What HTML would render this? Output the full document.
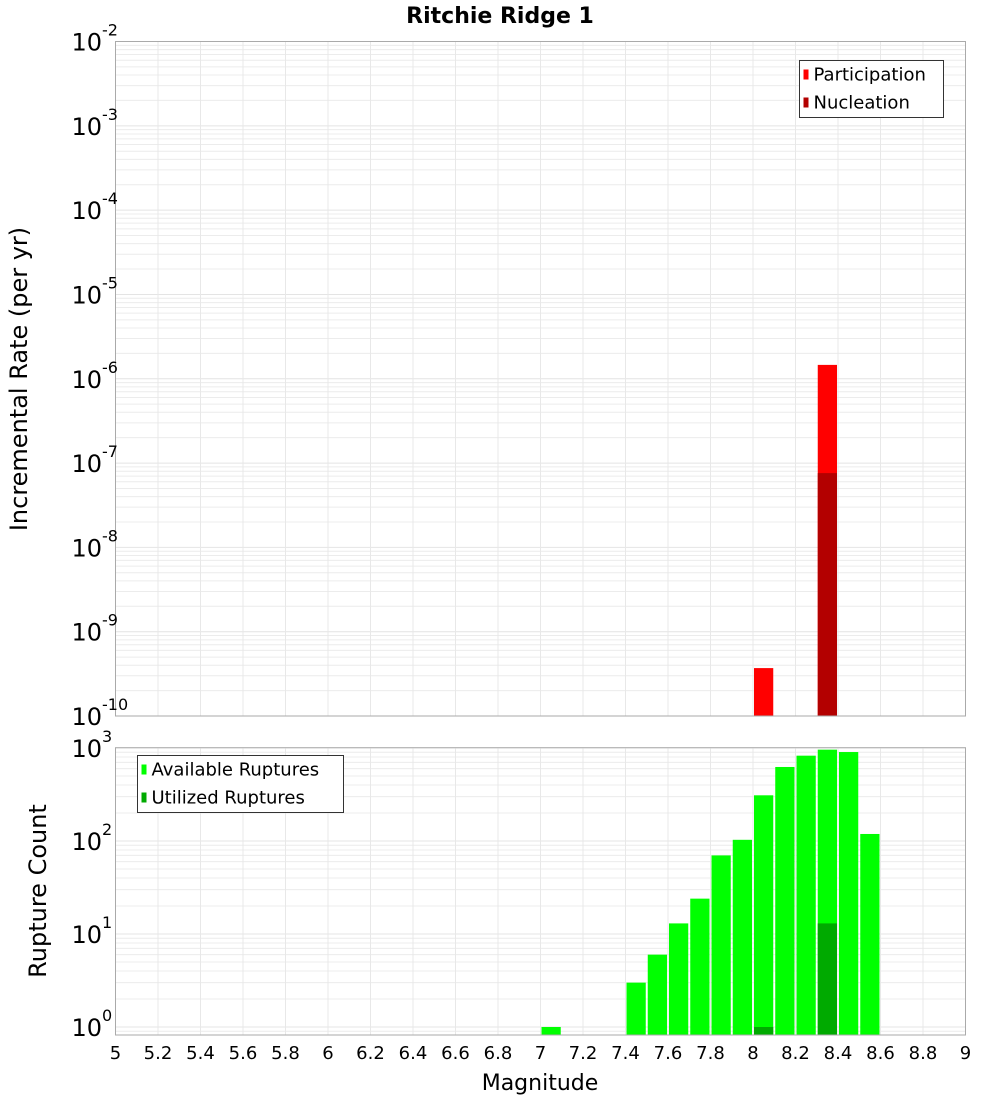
<!DOCTYPE html>
<html><head><meta charset="utf-8"><style>
html,body{margin:0;padding:0;background:#fff;}
svg{display:block;font-family:"DejaVu Sans","Liberation Sans",sans-serif;}
</style></head><body>
<svg id="chart" width="1000" height="1100" xmlns="http://www.w3.org/2000/svg">
<text x="500" y="23" text-anchor="middle" font-size="22" font-weight="bold">Ritchie Ridge 1</text>
<g id="topPlot"></g>
<g id="botPlot"></g>
<text transform="translate(27,379) rotate(-90)" text-anchor="middle" font-size="24">Incremental Rate (per yr)</text>
<text transform="translate(46,891) rotate(-90)" text-anchor="middle" font-size="24">Rupture Count</text>
<text x="540" y="1090" text-anchor="middle" font-size="22">Magnitude</text>
</svg>
<script>
const magBins = [8.0, 8.3];
const participation = [3.7e-10, 1.46e-6];
const nucleation = [0, 7.6e-8];
const countBins = [7.0, 7.4, 7.5, 7.6, 7.7, 7.8, 7.9, 8.0, 8.1, 8.2, 8.3, 8.4, 8.5];
const available = [1, 3, 6, 13, 24, 70, 103, 310, 625, 827, 960, 905, 119];
const utilized = [0, 0, 0, 0, 0, 0, 0, 1, 0, 0, 13, 0, 0];
const xTicks = ["5","5.2","5.4","5.6","5.8","6","6.2","6.4","6.6","6.8","7","7.2","7.4","7.6","7.8","8","8.2","8.4","8.6","8.8","9"];
const topExps = [-2,-3,-4,-5,-6,-7,-8,-9,-10];
const botExps = [0,1,2,3];

const NS="http://www.w3.org/2000/svg";
const L=115.5,R=965.5;
const x=m=>L+(m-5)/4*(R-L);
function mk(p,t,a){const e=document.createElementNS(NS,t);for(const k in a)e.setAttribute(k,a[k]);p.appendChild(e);return e;}
const T0=41.5,T1=716;
const yT=v=>T0+(-2-Math.log10(v))/8*(T1-T0);
const B0=747.7,B1=1035;
const yB=v=>1027-Math.log10(v)*93;
const gTop=document.getElementById('topPlot'),gBot=document.getElementById('botPlot');

function grid(g,yt,yb,yf,lo,hi){
  for(let e=lo;e<hi;e++)for(let k=1;k<10;k++){const y=yf(k*Math.pow(10,e));if(y<yt-0.5||y>yb+0.5)continue;
    const l=mk(g,'line',{x1:L,x2:R,y1:y,y2:y,stroke:k==1?'#e4e4e4':'#ececec','stroke-width':1});
    
    }
  for(let i=1;i<20;i++){const l=mk(g,'line',{x1:x(5+i*0.2),x2:x(5+i*0.2),y1:yt,y2:yb,stroke:'#e8e8e8','stroke-width':1});
    
    }
}
grid(gTop,T0,T1,yT,-10,-1);
grid(gBot,B0,B1,yB,-1,4);

function bar(g,m,v,yf,base,col,name){
  if(!v)return;
  const y=yf(v);
  const r=mk(g,'rect',{x:x(m)+1,y:y,width:x(m+0.1)-x(m)-2,height:base-y,fill:col});
  
  
}
magBins.forEach((m,i)=>bar(gTop,m,participation[i],yT,T1,'#ff0000','participation-bar'));
magBins.forEach((m,i)=>bar(gTop,m,nucleation[i],yT,T1,'#b30000','nucleation-bar'));
countBins.forEach((m,i)=>bar(gBot,m,available[i],yB,B1,'#00ff00','available-bar'));
countBins.forEach((m,i)=>bar(gBot,m,utilized[i],yB,B1,'#00aa00','utilized-bar'));

const f1=mk(gTop,'rect',{x:L,y:T0,width:R-L,height:T1-T0,fill:'none',stroke:'#aaa'});


const f2=mk(gBot,'rect',{x:L,y:B0,width:R-L,height:B1-B0,fill:'none',stroke:'#aaa'});



function ylab(g,e,y){
  const t=mk(g,'text',{x:102,y:y+9,'text-anchor':'end','font-size':24});
  
  
  t.textContent='10';
  const s=mk(g,'text',{x:102,y:y-6,'font-size':16});
  
  
  s.textContent=String(e);
}
topExps.forEach(e=>ylab(gTop,e,yT(Math.pow(10,e))));
botExps.forEach(e=>ylab(gBot,e,yB(Math.pow(10,e))));
xTicks.forEach(s=>{
  const t=mk(gBot,'text',{x:x(parseFloat(s)),y:1059,'text-anchor':'middle','font-size':18});
  
  
  t.textContent=s;
});

function legend(g,bx,by,w,items){
  const r=mk(g,'rect',{x:bx,y:by,width:w,height:57,fill:'#fff',stroke:'#333'});
  
  
  items.forEach((it,i)=>{
    const sw=mk(g,'rect',{x:bx+4,y:by+9+i*28,width:5,height:10,fill:it[1]});
    
    
    const t=mk(g,'text',{x:bx+14,y:by+20+i*28,'font-size':18});
    
    
    t.textContent=it[0];
  });
}
legend(gTop,799.5,60.5,144,[['Participation','#ff0000'],['Nucleation','#b30000']]);
legend(gBot,137.5,755.5,206,[['Available Ruptures','#00ff00'],['Utilized Ruptures','#00aa00']]);
</script>
</body></html>
